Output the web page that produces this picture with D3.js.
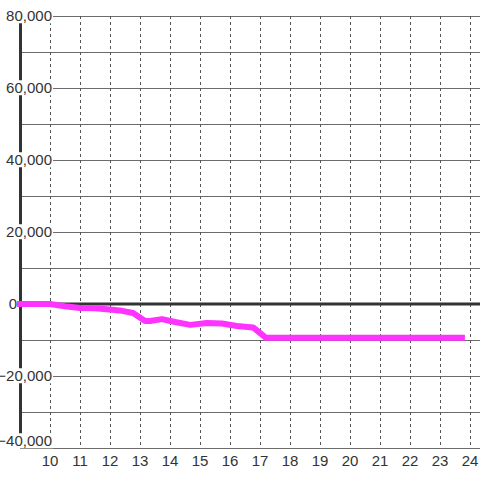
<!DOCTYPE html>
<html>
<head>
<meta charset="utf-8">
<script src="https://cdn.jsdelivr.net/npm/d3@7"></script>
<style>
  body { margin: 0; background: #fff; }
  svg { display: block; font-family: "Liberation Sans", Arial, sans-serif; }
</style>
</head>
<body>
<div id="chart"></div>
<script>
// Hour of day and cumulative value
const hours = [9.0, 10.0, 10.5, 11.0, 11.5, 12.0, 12.4, 12.77, 13.17, 13.33, 13.73, 14.17, 14.67, 15.23, 15.73, 16.23, 16.77, 17.2, 23.73];
const values = [0, 0, -600, -1100, -1200, -1500, -1900, -2500, -4700, -4700, -4200, -5000, -5800, -5300, -5400, -6100, -6500, -9400, -9400];
const xTicks = [10, 11, 12, 13, 14, 15, 16, 17, 18, 19, 20, 21, 22, 23, 24];
const yGrid = [-40000, -30000, -20000, -10000, 0, 10000, 20000, 30000, 40000, 50000, 60000, 70000, 80000];
const yLabels = [-40000, -20000, 0, 20000, 40000, 60000, 80000];

const width = 480, height = 480;

const x = d3.scaleLinear().domain([9, 24]).range([20, 470]);
const y = d3.scaleLinear().domain([-40000, 80000]).range([448, 16]);

const svg = d3.select("#chart").append("svg")
    .attr("width", width)
    .attr("height", height);

// horizontal grid
svg.append("g").selectAll("line")
    .data(yGrid)
    .enter().append("line")
    .attr("x1", x(9)).attr("x2", width)
    .attr("y1", d => y(d) + 0.5).attr("y2", d => y(d) + 0.5)
    .attr("stroke", "#6b6b6b")
    .attr("stroke-width", 1);

// vertical dashed grid
svg.append("g").selectAll("line")
    .data(xTicks)
    .enter().append("line")
    .attr("x1", d => x(d) + 0.5).attr("x2", d => x(d) + 0.5)
    .attr("y1", y(80000)).attr("y2", y(-40000))
    .attr("stroke", "#555")
    .attr("stroke-width", 1)
    .attr("stroke-dasharray", "3,3");

// y axis line
svg.append("line")
    .attr("x1", x(9) + 0.5).attr("x2", x(9) + 0.5)
    .attr("y1", y(80000)).attr("y2", y(-40000))
    .attr("stroke", "#333")
    .attr("stroke-width", 3);

// zero line
svg.append("line")
    .attr("x1", x(9)).attr("x2", width)
    .attr("y1", y(0)).attr("y2", y(0))
    .attr("stroke", "#333")
    .attr("stroke-width", 3);

// y labels with white backgrounds ("0" sits left of the axis)
const fmt = d3.format(",");
const yl = svg.append("g").selectAll("g")
    .data(yLabels)
    .enter().append("g")
    .attr("transform", d => {
        const lx = d === 0 ? 17 : 52;
        const ly = d === -40000 ? 441 : y(d);
        return `translate(${lx},${ly})`;
    });

yl.append("text")
    .attr("text-anchor", "end")
    .attr("dy", "0.35em")
    .attr("font-size", 15)
    .attr("fill", "#333")
    .text(d => fmt(d));

yl.each(function() {
    const g = d3.select(this);
    const b = g.select("text").node().getBBox();
    g.insert("rect", "text")
        .attr("x", b.x - 1).attr("y", b.y + 1)
        .attr("width", b.width + 2).attr("height", b.height - 2)
        .attr("fill", "#fff");
});

// x labels
svg.append("g").selectAll("text")
    .data(xTicks)
    .enter().append("text")
    .attr("x", d => x(d))
    .attr("y", 466)
    .attr("text-anchor", "middle")
    .attr("font-size", 15)
    .attr("fill", "#333")
    .text(d => d);

// series line
const line = d3.line()
    .x((d, i) => x(hours[i]))
    .y(d => y(d));

svg.append("path")
    .datum(values)
    .attr("d", line)
    .attr("fill", "none")
    .attr("stroke", "#ff33ff")
    .attr("stroke-width", 6)
    .attr("stroke-linejoin", "round")
    .attr("stroke-linecap", "square");
</script>
</body>
</html>
